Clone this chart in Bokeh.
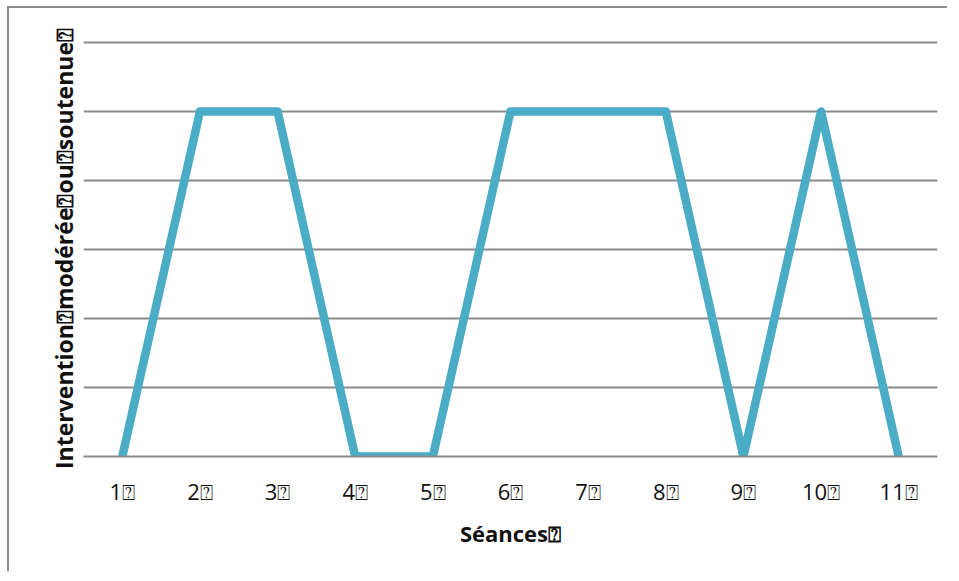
from bokeh.plotting import figure
from bokeh.models import FixedTicker, FactorRange, Range1d
from bokeh.embed import file_html
from bokeh.resources import INLINE

BOX = "\u2370"
seances = [f"{i}{BOX}" for i in range(1, 12)]
intervention = [0, 5, 5, 0, 0, 5, 5, 5, 0, 5, 0]
grid_levels = [1, 2, 3, 4, 5, 6]

x_title = f"Séances{BOX}"
y_title = f"Intervention{BOX}modérée{BOX}ou{BOX}soutenue{BOX}"

FONT = "Open Sans"
GRID = "#8a8a8a"
LINE = "#4BACC6"

p = figure(
    x_range=FactorRange(factors=seances),
    y_range=Range1d(0, 416 / 69),
    frame_width=854, frame_height=416,
    min_border_left=74, min_border_top=32, min_border_right=10, min_border_bottom=115,
    output_backend="svg", toolbar_location=None,
)
p.styles = {"border-top": "2px solid #8c8c8c", "border-left": "2px solid #8c8c8c",
            "margin-left": "7px", "margin-top": "6px"}
p.outline_line_color = None
p.background_fill_color = "white"
p.border_fill_color = "white"

p.xgrid.visible = False
p.ygrid.ticker = FixedTicker(ticks=grid_levels)
p.ygrid.grid_line_color = GRID
p.ygrid.grid_line_width = 2

p.line(x=seances, y=intervention, line_color=LINE, line_width=8.5,
       line_join="round", line_cap="butt")

xa = p.xaxis[0]
xa.axis_line_color = GRID
xa.axis_line_width = 2
xa.major_tick_line_color = None
xa.minor_tick_line_color = None
xa.major_tick_out = 0
xa.major_label_standoff = 19
xa.major_label_text_font = FONT
xa.major_label_text_font_size = "22px"
xa.major_label_text_color = "#111111"
xa.axis_label = x_title
xa.axis_label_text_font = FONT
xa.axis_label_text_font_size = "22px"
xa.axis_label_text_font_style = "bold"
xa.axis_label_text_color = "#111111"
xa.axis_label_standoff = 9

ya = p.yaxis[0]
ya.ticker = FixedTicker(ticks=[])
ya.axis_line_color = None
ya.major_tick_line_color = None
ya.minor_tick_line_color = None
ya.major_tick_out = 0
ya.major_label_standoff = 0
ya.axis_label = y_title
ya.axis_label_text_font = FONT
ya.axis_label_text_font_size = "23px"
ya.axis_label_text_font_style = "bold"
ya.axis_label_text_color = "#111111"
ya.axis_label_standoff = 4

open("out.html", "w").write(file_html(p, INLINE))
